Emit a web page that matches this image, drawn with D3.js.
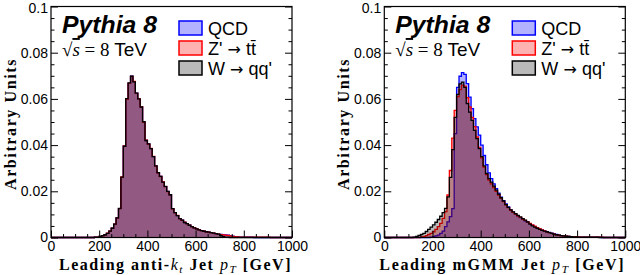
<!DOCTYPE html>
<html>
<head>
<meta charset="utf-8">
<script src="https://cdn.jsdelivr.net/npm/d3@7"></script>
<style>
  body { margin: 0; background: #fff; }
  svg { display: block; }
</style>
</head>
<body>
<div class="chart"></div>
<script>
// bin lower edges (10 GeV bins, 0 - 1000 GeV)
var binLow = d3.range(0, 1000, 10);

var xTicks = [0, 200, 400, 600, 800, 1000];
var yTicks = [0, 0.02, 0.04, 0.06, 0.08, 0.1];
var yTickLabels = ["0", "0.02", "0.04", "0.06", "0.08", "0.1"];

// legend entries: [before arrow, after arrow]
var seriesNames = [["QCD", null], ["Z'", "tt\u0304"], ["W", "qq'"]];

// Leading anti-kt jet pT
var aktQCD = [
  0,0,0,0,0,0,0,0,0,0,
  0,0,0,0,0,0,0,0,0.0001,0.0002,
  0.0005,0.0008,0.0012,0.0018,0.0028,0.004,0.0058,0.0085,0.0125,0.026,
  0.0395,0.060,0.0668,0.0698,0.0675,0.0625,0.060,0.0565,0.050,0.042,
  0.0405,0.0385,0.035,0.031,0.028,0.0265,0.024,0.022,0.020,0.0185,
  0.0125,0.0108,0.0095,0.0082,0.0075,0.0065,0.006,0.0053,0.0047,0.0042,
  0.0037,0.0033,0.003,0.0027,0.0025,0.0023,0.0021,0.0019,0.0017,0.0015,
  0.0013,0.0012,0.0011,0.001,0.0008,0.0006,0.0004,0.0003,0.0002,0.0002,
  0.0001,0.0001,0.0001,0.0001,0,0,0,0,0,0,
  0,0,0,0,0,0,0,0,0,0
];
var aktZp = [
  0,0,0,0,0,0,0,0,0,0,
  0,0,0,0,0,0,0,0,0.0001,0.0002,
  0.0005,0.0008,0.0012,0.0019,0.0028,0.0041,0.0058,0.0084,0.0125,0.0262,
  0.0396,0.0598,0.0667,0.0697,0.0676,0.0624,0.0601,0.0566,0.0499,0.0421,
  0.0404,0.0386,0.0351,0.0309,0.028,0.0264,0.0241,0.022,0.0199,0.0186,
  0.0124,0.0108,0.0096,0.0082,0.0074,0.0066,0.006,0.0053,0.0047,0.0042,
  0.0037,0.0033,0.003,0.0027,0.0025,0.0023,0.0021,0.0019,0.0017,0.0015,
  0.0012,0.0011,0.001,0.0009,0.0007,0.0005,0.0004,0.0003,0.0002,0.0002,
  0.0002,0.0001,0.0001,0.0002,0.0001,0.0001,0.0002,0.0001,0.0001,0.0001,
  0.0001,0,0,0,0,0,0,0,0,0
];
var aktW = [
  0,0,0,0,0,0,0,0,0,0,
  0,0,0,0,0,0,0,0,0.0001,0.0002,
  0.0005,0.0008,0.0012,0.0018,0.0028,0.004,0.0058,0.0085,0.0126,0.0261,
  0.0395,0.0601,0.0669,0.0698,0.0674,0.0625,0.060,0.0565,0.0501,0.042,
  0.0405,0.0385,0.035,0.031,0.0281,0.0265,0.024,0.0221,0.020,0.0185,
  0.0125,0.0108,0.0095,0.0082,0.0075,0.0065,0.006,0.0053,0.0047,0.0042,
  0.0037,0.0033,0.003,0.0027,0.0025,0.0023,0.0021,0.0019,0.0017,0.0015,
  0.0009,0.0004,0.0002,0.0001,0,0,0,0,0,0,
  0,0,0,0,0,0,0,0,0,0,
  0,0,0,0,0,0,0,0,0,0
];

// Leading mGMM jet pT
var gmmQCD = [
  0,0,0,0,0,0,0,0,0,0,
  0,0,0,0,0,0,0,0,0,0.0002,
  0.0004,0.0007,0.001,0.0018,0.0028,0.0047,0.0068,0.009,0.0125,0.045,
  0.065,0.0698,0.0714,0.0706,0.0666,0.0608,0.0558,0.0515,0.0479,0.0443,
  0.040,0.0355,0.0315,0.028,0.0255,0.0232,0.0212,0.0192,0.0175,0.016,
  0.0145,0.0132,0.012,0.011,0.0101,0.0093,0.0086,0.0079,0.0072,0.0066,
  0.006,0.0053,0.0047,0.0042,0.0037,0.0033,0.0029,0.0025,0.0022,0.0019,
  0.0016,0.0013,0.001,0.0008,0.0007,0.0006,0.0005,0.0004,0.0003,0.0003,
  0.0002,0.0002,0.0002,0.0001,0.0001,0.0001,0.0001,0.0001,0.0001,0.0001,
  0,0,0,0,0,0,0,0,0,0
];
var gmmZp = [
  0,0,0,0,0,0,0,0,0,0,
  0,0,0,0,0,0.0002,0.0004,0.0008,0.0013,0.0018,
  0.0025,0.0035,0.0047,0.0061,0.0083,0.0112,0.0184,0.029,0.043,0.055,
  0.061,0.064,0.066,0.0655,0.0605,0.0565,0.052,0.048,0.0435,0.039,
  0.0345,0.0305,0.0272,0.0248,0.0232,0.0216,0.020,0.0184,0.0169,0.0155,
  0.0141,0.0129,0.0118,0.0109,0.0101,0.0094,0.0087,0.008,0.0074,0.0068,
  0.0061,0.0055,0.0049,0.0043,0.0038,0.0033,0.0029,0.0025,0.0021,0.0018,
  0.0015,0.0012,0.001,0.0008,0.0007,0.0006,0.0005,0.0004,0.0004,0.0003,
  0.0003,0.0002,0.0002,0.0002,0.0002,0.0001,0.0001,0.0001,0.0001,0.0001,
  0.0001,0,0,0,0,0,0,0,0,0
];
var gmmW = [
  0,0,0,0,0,0,0,0,0,0,
  0,0,0.0002,0.0005,0.0009,0.0013,0.0018,0.0026,0.0035,0.0045,
  0.0055,0.0066,0.0078,0.0092,0.0108,0.0126,0.0176,0.026,0.038,0.052,
  0.062,0.0665,0.0673,0.065,0.058,0.0543,0.0507,0.0464,0.0428,0.0385,
  0.035,0.031,0.0277,0.0255,0.024,0.0222,0.0205,0.0188,0.0172,0.0158,
  0.0142,0.013,0.012,0.0111,0.0103,0.0096,0.0089,0.0082,0.0075,0.0068,
  0.0058,0.005,0.0045,0.004,0.0035,0.0031,0.0028,0.0025,0.0021,0.0018,
  0.0015,0.0012,0.001,0.0008,0.0007,0.0006,0.0005,0.0004,0.0003,0.0003,
  0.0002,0.0002,0.0002,0.0001,0.0001,0.0001,0.0001,0.0001,0.0001,0,
  0,0,0,0,0,0,0,0,0,0
];

var styles = [
  { stroke: "#0000ff", fill: "rgba(0,0,255,0.3)" },
  { stroke: "#ff0000", fill: "rgba(255,0,0,0.3)" },
  { stroke: "#000000", fill: "rgba(0,0,0,0.27)" }
];

var panels = [
  { left: 51, jet: "anti-", series: [aktQCD, aktZp, aktW] },
  { left: 384.3, jet: "mGMM", series: [gmmQCD, gmmZp, gmmW] }
];

var plotW = 241, plotTop = 6.5, plotBottom = 237.5;
var sans = "'Liberation Sans', Arial, Helvetica, sans-serif";
var serif = "'Liberation Serif', 'Times New Roman', serif";

var svg = d3.select(".chart").append("svg")
  .attr("width", 640)
  .attr("height", 275);

// scale font size so the text gets a given width
function fitText(sel, target) {
  var size = parseFloat(sel.attr("font-size"));
  var w = sel.node().getComputedTextLength();
  sel.attr("font-size", size * target / w);
}

// keep font size, spread the letters to a given width
function fitSpacing(sel, target) {
  var w = sel.node().getComputedTextLength();
  var n = sel.text().length;
  sel.attr("letter-spacing", Math.max(0, (target - w) / n));
}

function drawPanel(p, idx) {
  var g = svg.append("g");

  var xScale = d3.scaleLinear().domain([0, 1000]).range([p.left, p.left + plotW]);
  var yScale = d3.scaleLinear().domain([0, 0.1]).range([plotBottom, plotTop]);

  // histograms
  p.series.forEach(function(vals, i) {
    var pts = binLow.map(function(lo, k) { return [lo, vals[k]]; });
    pts.push([1000, vals[vals.length - 1]]);

    var area = d3.area()
      .curve(d3.curveStepAfter)
      .x(d => xScale(d[0]))
      .y0(yScale(0))
      .y1(d => yScale(d[1]));
    var line = d3.line()
      .curve(d3.curveStepAfter)
      .x(d => xScale(d[0]))
      .y(d => yScale(d[1]));

    g.append("path")
      .attr("d", area(pts))
      .attr("fill", styles[i].fill)
      .attr("stroke", "none");
    g.append("path")
      .attr("d", line(pts))
      .attr("fill", "none")
      .attr("stroke", styles[i].stroke)
      .attr("stroke-width", 1.3);
  });

  // axes (ticks point inwards)
  var xMinor = d3.range(0, 1001, 50).filter(v => v % 200 !== 0);
  var yMinor = d3.range(0, 0.1001, 0.005).filter(v => Math.abs(v / 0.02 - Math.round(v / 0.02)) > 1e-6);

  g.append("g")
    .attr("transform", `translate(0, ${plotBottom})`)
    .call(d3.axisBottom(xScale).tickValues(xTicks).tickSize(-7).tickPadding(4).tickFormat(d3.format("d")));
  g.append("g")
    .attr("transform", `translate(0, ${plotBottom})`)
    .call(d3.axisBottom(xScale).tickValues(xMinor).tickSize(-3.5).tickFormat(""));

  g.append("g")
    .attr("class", "yaxis")
    .attr("transform", `translate(${p.left}, 0)`)
    .call(d3.axisLeft(yScale).tickValues(yTicks).tickSize(-7).tickPadding(3)
      .tickFormat((d, i) => yTickLabels[i]));
  g.append("g")
    .attr("transform", `translate(${p.left}, 0)`)
    .call(d3.axisLeft(yScale).tickValues(yMinor).tickSize(-3.5).tickFormat(""));

  // mirrored ticks on the right side
  g.append("g")
    .attr("transform", `translate(${p.left + plotW}, 0)`)
    .call(d3.axisRight(yScale).tickValues(yTicks).tickSize(-7).tickFormat(""));
  g.append("g")
    .attr("transform", `translate(${p.left + plotW}, 0)`)
    .call(d3.axisRight(yScale).tickValues(yMinor).tickSize(-3.5).tickFormat(""));

  g.selectAll(".domain").remove();
  g.selectAll(".tick line").attr("stroke", "#000").attr("stroke-width", 1);
  g.selectAll(".tick text")
    .attr("font-family", sans)
    .attr("font-size", 14)
    .attr("fill", "#000");
  // top label "0.1" kept inside the picture
  g.selectAll(".yaxis .tick text").filter(d => d === 0.1).attr("dy", "0.45em");

  // frame
  g.append("rect")
    .attr("x", p.left)
    .attr("y", plotTop)
    .attr("width", plotW)
    .attr("height", plotBottom - plotTop)
    .attr("fill", "none")
    .attr("stroke", "#000")
    .attr("stroke-width", 1.2);

  // y title
  var yt = g.append("text")
    .attr("transform", `translate(${p.left - 35}, ${(plotTop + plotBottom) / 2 + 2}) rotate(-90)`)
    .attr("text-anchor", "middle")
    .attr("font-family", serif)
    .attr("font-weight", "bold")
    .attr("font-size", 16)
    .text("Arbitrary Units");
  fitSpacing(yt, 132);

  // x title
  var xt = g.append("text")
    .attr("x", p.left + plotW)
    .attr("y", 270)
    .attr("text-anchor", "end")
    .attr("font-family", serif)
    .attr("font-weight", "bold")
    .attr("font-size", 16);
  xt.append("tspan").text("Leading " + p.jet);
  if (idx === 0) {
    xt.append("tspan").attr("font-style", "italic").attr("font-weight", "normal").text("k");
    xt.append("tspan").attr("font-style", "italic").attr("font-weight", "normal")
      .attr("font-size", "70%").attr("dy", "0.3em").text("t");
    xt.append("tspan").attr("dy", "-0.21em").text(" Jet ");
  } else {
    xt.append("tspan").text(" Jet ");
  }
  xt.append("tspan").attr("font-style", "italic").attr("font-weight", "normal").text("p");
  xt.append("tspan").attr("font-style", "italic").attr("font-weight", "normal")
    .attr("font-size", "70%").attr("dy", "0.3em").text("T");
  xt.append("tspan").attr("dy", "-0.21em").text(" [GeV]");
  fitSpacing(xt, idx === 0 ? 233 : 246);

  // Pythia 8 label
  var py = g.append("text")
    .attr("x", p.left + 11)
    .attr("y", 33)
    .attr("font-family", sans)
    .attr("font-weight", "bold")
    .attr("font-style", "italic")
    .attr("font-size", 23)
    .text("Pythia 8");
  fitText(py, 95);

  // sqrt(s) label
  var rs = g.append("text")
    .attr("x", p.left + 11)
    .attr("y", 56)
    .attr("font-size", 17);
  rs.append("tspan").attr("font-family", serif).text("\u221A");
  rs.append("tspan").attr("font-family", serif).attr("font-style", "italic")
    .attr("text-decoration", "overline").text("s");
  rs.append("tspan").attr("font-family", serif).text(" = 8 ");
  rs.append("tspan").attr("font-family", sans).text("TeV");
  fitText(rs, 85);

  // legend
  seriesNames.forEach(function(name, i) {
    var ly = 21 + i * 20;
    g.append("rect")
      .attr("x", p.left + 128)
      .attr("y", ly)
      .attr("width", 23)
      .attr("height", 14)
      .attr("fill", styles[i].fill)
      .attr("stroke", styles[i].stroke)
      .attr("stroke-width", 1.5);
    var lt = g.append("text")
      .attr("x", p.left + 157)
      .attr("y", ly + 13.5)
      .attr("font-family", sans)
      .attr("font-size", 18)
      .text(name[0]);
    if (name[1]) {
      lt.append("tspan").attr("font-family", "'DejaVu Sans', sans-serif").attr("font-size", 16).text(" \u2192 ");
      lt.append("tspan").text(name[1]);
    }
  });
}

panels.forEach(drawPanel);
</script>
</body>
</html>
